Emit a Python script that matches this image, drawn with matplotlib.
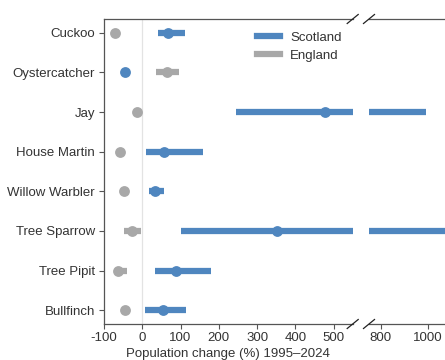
import matplotlib
matplotlib.use("Agg")
import matplotlib.pyplot as plt
import numpy as np

plt.rcParams['font.family'] = ['Liberation Sans', 'DejaVu Sans']
plt.rcParams['axes.unicode_minus'] = False

species = ["Cuckoo", "Oystercatcher", "Jay", "House Martin", "Willow Warbler",
           "Tree Sparrow", "Tree Pipit", "Bullfinch"]
scot_val = [66, -44, 477, 56, 32, 353, 89, 54]
scot_lo = [40, -50, 244, 9, 17, 100, 32, 8]
scot_hi = [113, -38, 990, 160, 56, 1120, 180, 115]
eng_val = [-72, 64, -13, -59, -48, -27, -64, -44]
eng_lo = [-76, 37, -17, -63, -52, -48, -72, -48]
eng_hi = [-68, 97, -9, -55, -44, -3, -39, -40]

left_ticks = [-100, 0, 100, 200, 300, 400, 500]
right_ticks = [800, 1000]

BLUE = "#4f86bf"
GREY = "#a8a8a8"
TXT = "#333333"
SPINE = "#555555"

W, H = 445, 360
fig = plt.figure(figsize=(W / 100, H / 100), dpi=100)
y0 = (H - 324) / H
hh = (324 - 19) / H
ax1 = fig.add_axes([104 / W, y0, (352.7 - 104) / W, hh])
ax2 = fig.add_axes([369 / W, y0, (W - 369) / W, hh], sharey=ax1)

y = np.arange(len(species))
for ax in (ax1, ax2):
    ax.hlines(y, eng_lo, eng_hi, color=GREY, lw=4.5, zorder=2)
    ax.plot(eng_val, y, 'o', color=GREY, ms=7.8, zorder=3, mec='none')
    ax.hlines(y, scot_lo, scot_hi, color=BLUE, lw=4.5, zorder=4)
    ax.plot(scot_val, y, 'o', color=BLUE, ms=7.8, zorder=5, mec='none')
    ax.tick_params(axis='x', colors=SPINE, labelcolor=TXT, labelsize=9.5,
                   length=3.5, width=0.8, pad=2.5)
    for s in ax.spines.values():
        s.set_color(SPINE)
        s.set_linewidth(0.9)

ax1.axvline(0, color='#e3e3e3', lw=0.9, zorder=0)
ax1.set_xlim(-100, 550)
ax2.set_xlim(750, 750 + 76 / 0.2367)
ax1.set_ylim(7.35, -0.35)

ax1.set_xticks(left_ticks)
ax1.set_xticklabels([str(t) for t in left_ticks])
ax2.set_xticks(right_ticks)
ax2.set_xticklabels([str(t) for t in right_ticks])

ax1.set_yticks(y)
ax1.set_yticklabels(species)
ax1.tick_params(axis='y', colors=SPINE, labelcolor=TXT, labelsize=9.5,
                length=3.5, width=0.8, pad=3)
ax1.spines['right'].set_visible(False)
ax2.spines['left'].set_visible(False)
ax2.spines['right'].set_visible(False)
ax2.tick_params(axis='y', left=False, labelleft=False)

ax1.set_xlabel("Population change (%) 1995\u20132024", fontsize=9.5, color=TXT, labelpad=3)

# break marks
dx, dy = 5.5 / W, 4.5 / H
for xc in (352.7 / W, 369 / W):
    for yc in (y0, y0 + hh):
        fig.add_artist(plt.Line2D([xc - dx, xc + dx], [yc - dy, yc + dy],
                                  color='#222222', lw=0.9))

from matplotlib.lines import Line2D
handles = [Line2D([], [], color=BLUE, lw=4.5), Line2D([], [], color=GREY, lw=4.5)]
leg = ax1.legend(handles, ["Scotland", "England"], loc='upper left',
                 bbox_to_anchor=((246 - 104) / (352.7 - 104), 0.993),
                 frameon=False, fontsize=9.5, handlelength=1.8, handletextpad=0.75,
                 labelspacing=0.45, borderaxespad=0.4)
for t in leg.get_texts():
    t.set_color(TXT)

fig.savefig("out.png", dpi=100)
